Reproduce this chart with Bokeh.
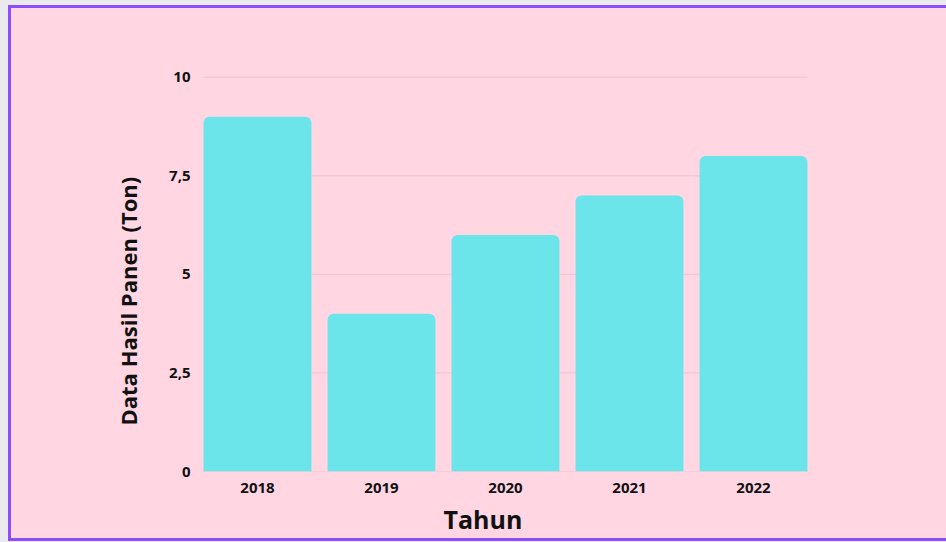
from bokeh.plotting import figure
from bokeh.models import ColumnDataSource, FactorRange, Range1d, FixedTicker, Title
from bokeh.transform import dodge
from bokeh.embed import file_html
from bokeh.resources import INLINE

# ---- data ----
years = ["2018", "2019", "2020", "2021", "2022"]
harvest = [9, 4, 6, 7, 8]
y_ticks = [0, 2.5, 5, 7.5, 10]
y_tick_labels = ["0", "2,5", "5", "7,5", "10"]
x_title = "Tahun"
y_title = "Data Hasil Panen (Ton)"

# ---- style ----
BAR_W = 0.87
PINK = "#FFD6E2"
BAR = "#6BE5E9"
GRID = "#F0C3D0"
PURPLE = "#8C4DFF"
OUTSIDE = "#E9E9EE"
TEXT = "#111111"
FONT = "Open Sans"

src = ColumnDataSource(dict(year=years, value=harvest))
grid_src = ColumnDataSource(dict(x0=[years[0]] * len(y_ticks),
                                 x1=[years[-1]] * len(y_ticks),
                                 y=y_ticks))

p = figure(x_range=FactorRange(factors=years, range_padding=0),
           y_range=Range1d(0, 10.5),
           width=935, height=530,
           output_backend="svg", toolbar_location=None,
           min_border_left=184, min_border_right=134,
           min_border_top=49, min_border_bottom=73)

p.background_fill_color = None
p.border_fill_color = None
p.outline_line_color = None
p.xgrid.visible = False
p.ygrid.visible = False

p.segment(x0=dodge("x0", -BAR_W / 2, range=p.x_range), y0="y",
          x1=dodge("x1", BAR_W / 2, range=p.x_range), y1="y",
          source=grid_src, line_color=GRID, line_width=1)

p.vbar(x="year", top="value", width=BAR_W, source=src,
       fill_color=BAR, line_color=None, border_radius=(6, 6, 0, 0))

for ax in (p.xaxis[0], p.yaxis[0]):
    ax.axis_line_color = None
    ax.major_tick_line_color = None
    ax.minor_tick_line_color = None
    ax.major_tick_out = 0
    ax.major_tick_in = 0
    ax.major_label_text_font = FONT
    ax.major_label_text_font_style = "bold"
    ax.major_label_text_font_size = "15px"
    ax.major_label_text_color = TEXT

p.yaxis.ticker = FixedTicker(ticks=y_ticks)
p.yaxis.major_label_overrides = {t: l for t, l in zip(y_ticks, y_tick_labels)}
p.yaxis.major_label_standoff = 5
p.xaxis.major_label_standoff = 11

p.add_layout(Title(text=x_title, align="left", offset=248, vertical_align="top",
                   standoff=12, text_font=FONT, text_font_size="25px",
                   text_font_style="bold", text_color=TEXT), "below")
p.add_layout(Title(text=y_title, align="left", offset=46, vertical_align="bottom",
                   standoff=47, text_font=FONT, text_font_size="22px",
                   text_font_style="bold", text_color=TEXT), "left")

border = f"3px solid {PURPLE}"
p.styles = {"box-sizing": "content-box",
            "background-color": PINK,
            "border-left": border, "border-top": border, "border-bottom": border,
            "margin-left": "8px", "margin-top": "5px",
            "box-shadow": f"0 0 0 8px {OUTSIDE}"}

open("out.html", "w").write(file_html(p, INLINE))
